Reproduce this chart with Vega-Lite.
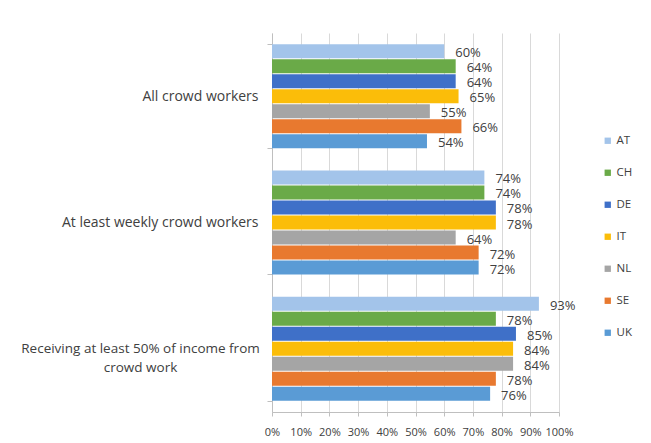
{
  "$schema": "https://vega.github.io/schema/vega-lite/v6.json",
  "width": 287,
  "height": 379,
  "autosize": {"type": "none"},
  "padding": {"left": 272, "top": 33, "right": 92, "bottom": 31},
  "background": "white",
  "config": {
    "view": {"stroke": null},
    "font": "Open Sans",
    "axis": {"labelFont": "Open Sans", "labelColor": "#404040", "domainColor": "#bfbfbf", "tickColor": "#bfbfbf"}
  },
  "data": {
    "values": [
      {"group": "All crowd workers", "country": "AT", "value": 0.60},
      {"group": "All crowd workers", "country": "CH", "value": 0.64},
      {"group": "All crowd workers", "country": "DE", "value": 0.64},
      {"group": "All crowd workers", "country": "IT", "value": 0.65},
      {"group": "All crowd workers", "country": "NL", "value": 0.55},
      {"group": "All crowd workers", "country": "SE", "value": 0.66},
      {"group": "All crowd workers", "country": "UK", "value": 0.54},
      {"group": "At least weekly crowd workers", "country": "AT", "value": 0.74},
      {"group": "At least weekly crowd workers", "country": "CH", "value": 0.74},
      {"group": "At least weekly crowd workers", "country": "DE", "value": 0.78},
      {"group": "At least weekly crowd workers", "country": "IT", "value": 0.78},
      {"group": "At least weekly crowd workers", "country": "NL", "value": 0.64},
      {"group": "At least weekly crowd workers", "country": "SE", "value": 0.72},
      {"group": "At least weekly crowd workers", "country": "UK", "value": 0.72},
      {"group": "Receiving at least 50% of income from crowd work", "country": "AT", "value": 0.93},
      {"group": "Receiving at least 50% of income from crowd work", "country": "CH", "value": 0.78},
      {"group": "Receiving at least 50% of income from crowd work", "country": "DE", "value": 0.85},
      {"group": "Receiving at least 50% of income from crowd work", "country": "IT", "value": 0.84},
      {"group": "Receiving at least 50% of income from crowd work", "country": "NL", "value": 0.84},
      {"group": "Receiving at least 50% of income from crowd work", "country": "SE", "value": 0.78},
      {"group": "Receiving at least 50% of income from crowd work", "country": "UK", "value": 0.76}
    ]
  },
  "encoding": {
    "y": {
      "field": "group",
      "type": "nominal",
      "sort": null,
      "title": null,
      "scale": {"paddingInner": 0.177, "paddingOuter": 0.0885},
      "axis": {
        "tickBand": "extent",
        "tickSize": 5,
        "labelPadding": {"condition": {"test": "datum.value == 'Receiving at least 50% of income from crowd work'", "value": 127}, "value": 9},
        "labelAlign": {"condition": {"test": "datum.value == 'Receiving at least 50% of income from crowd work'", "value": "center"}, "value": "right"},
        "labelFontSize": {"condition": {"test": "datum.value == 'Receiving at least 50% of income from crowd work'", "value": 13.5}, "value": 14},
        "labelLimit": 300,
        "labelLineHeight": 19,
        "labelExpr": "datum.label == 'Receiving at least 50% of income from crowd work' ? ['Receiving at least 50% of income from', 'crowd work'] : datum.label"
      }
    },
    "yOffset": {
      "field": "country",
      "type": "nominal",
      "sort": ["AT", "CH", "DE", "IT", "NL", "SE", "UK"],
      "scale": {"paddingInner": 0.07, "paddingOuter": 0}
    },
    "x": {
      "field": "value",
      "type": "quantitative",
      "title": null,
      "scale": {"domain": [0, 1], "nice": false},
      "axis": {
        "values": [0, 0.1, 0.2, 0.3, 0.4, 0.5, 0.6, 0.7, 0.8, 0.9, 1],
        "format": ".0%",
        "grid": true,
        "gridColor": "#d9d9d9",
        "tickSize": 4,
        "labelFontSize": 11,
        "labelPadding": 10,
        "labelOverlap": false,
        "labelFlush": false
      }
    }
  },
  "layer": [
    {
      "mark": {"type": "bar"},
      "encoding": {
        "color": {
          "field": "country",
          "type": "nominal",
          "title": null,
          "scale": {
            "domain": ["AT", "CH", "DE", "IT", "NL", "SE", "UK"],
            "range": ["#a3c4ea", "#6aaa48", "#3f70c8", "#fbbd09", "#a5a5a5", "#e8792f", "#5a9bd5"]
          },
          "legend": {
            "orient": "none",
            "legendX": 330,
            "legendY": 102,
            "symbolType": "square",
            "symbolSize": 40,
            "symbolStrokeWidth": 0,
            "labelFont": "Open Sans",
            "labelFontSize": 11.5,
            "labelColor": "#404040",
            "labelOffset": 3,
            "rowPadding": 19,
            "padding": 0
          }
        }
      }
    },
    {
      "mark": {"type": "text", "align": "left", "baseline": "middle", "dx": 11, "dy": 2, "fontSize": 13, "color": "#404040"},
      "encoding": {
        "text": {"field": "value", "type": "quantitative", "format": ".0%"}
      }
    }
  ]
}
